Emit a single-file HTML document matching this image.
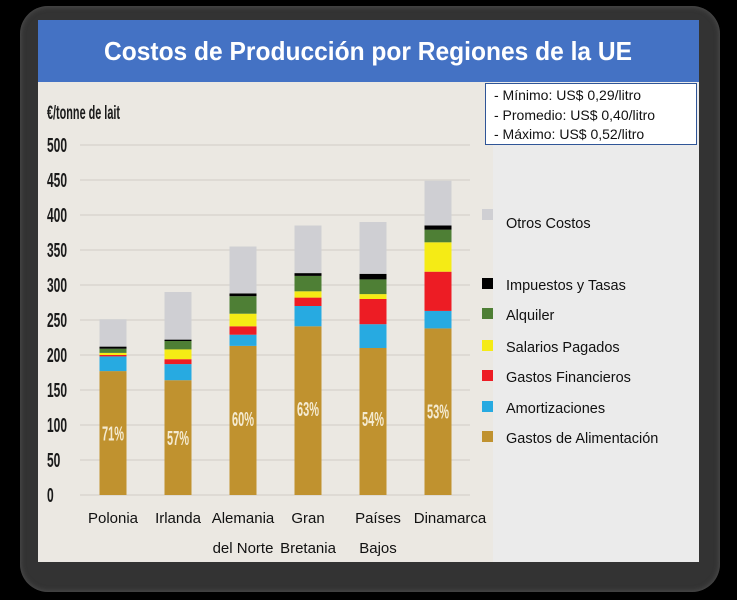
<!DOCTYPE html>
<html><head><meta charset="utf-8">
<style>
html,body{margin:0;padding:0;background:#000;}
body{width:737px;height:600px;overflow:hidden;position:relative;font-family:"Liberation Sans",sans-serif;}
#frame{position:absolute;left:20px;top:6px;width:700px;height:586px;background:#333;border-radius:28px;box-shadow:0 0 6px #555 inset;}
#panel{position:absolute;left:38px;top:20px;width:661px;height:542px;background:#ebebeb;}
#chartbg{position:absolute;left:38px;top:82px;width:455px;height:480px;background:#ebe8e2;}
#title{position:absolute;left:38px;top:20px;width:661px;height:62px;background:#4472c4;}
#info{position:absolute;left:485px;top:83px;width:212px;height:62px;background:#fff;border:1px solid #2f5597;box-sizing:border-box;font-size:14px;color:#111;line-height:19.5px;padding:2px 0 0 8px;}
svg{position:absolute;left:0;top:0;}
</style></head><body>
<div id="frame"></div>
<div id="panel"></div>
<div id="chartbg"></div>
<div id="title"></div>
<svg id="svg" width="737" height="600">
<text x="368" y="60" fill="#fff" font-size="26" font-weight="bold" text-anchor="middle" textLength="528" lengthAdjust="spacingAndGlyphs">Costos de Producción por Regiones de la UE</text>
<text x="47" y="119" fill="#1a1a1a" font-size="19" font-weight="bold" textLength="73" lengthAdjust="spacingAndGlyphs">€/tonne de lait</text>
</svg>
<div id="info">- Mínimo: US$ 0,29/litro<br>- Promedio: US$ 0,40/litro<br>- Máximo: US$ 0,52/litro</div>
<script>
const categories=["Polonia","Irlanda","Alemania|del Norte","Gran|Bretania","Países|Bajos","Dinamarca"];
const seriesNames=["Gastos de Alimentación","Amortizaciones","Gastos Financieros","Salarios Pagados","Alquiler","Impuestos y Tasas","Otros Costos"];
const seriesColors=["#c0922f","#27aae1","#ed1c24","#f5eb15","#4e7f35","#000000","#cfcfd3"];
const alimentacion=[177,164,213,241,210,238];
const amortizaciones=[21,23,16,29,34,25];
const financieros=[2,7,12,12,36,56];
const salarios=[3,14,18,9,7,42];
const alquiler=[6,12,25,22,21,18];
const impuestos=[3,2,4,4,8,6];
const otros=[39,68,67,68,74,64];
const percentLabels=["71%","57%","60%","63%","54%","53%"];
const percentAt=[89,83,110,124,110,121];
const yTicks=[0,50,100,150,200,250,300,350,400,450,500];
const series=[alimentacion,amortizaciones,financieros,salarios,alquiler,impuestos,otros];

const NS="http://www.w3.org/2000/svg";
const svg=document.getElementById('svg');
const y0=495,pxPer=0.7;
function yScale(v){return y0-v*pxPer;}
const xStart=80,band=65;
function xCenter(i){return xStart+33+i*band;}
const bw=27;
function mk(tag,attrs){const e=document.createElementNS(NS,tag);for(const k in attrs)e.setAttribute(k,attrs[k]);svg.appendChild(e);return e;}

yTicks.forEach(t=>{
  const l=mk('line',{x1:80,x2:470,y1:yScale(t),y2:yScale(t),stroke:'#d9d6d0','stroke-width':1.5});
  
  
  const tx=mk('text',{x:47,y:yScale(t)+7,'font-size':20,'font-weight':'bold',fill:'#1a1a1a'});
  tx.setAttribute('transform',`translate(47,0) scale(0.6,1) translate(-47,0)`);
  tx.textContent=t;
  
  
});

categories.forEach((c,i)=>{
  let acc=0;
  series.forEach((s,j)=>{
    const v=s[i];
    const r=mk('rect',{x:xCenter(i)-bw/2,y:yScale(acc+v),width:bw,height:v*pxPer,fill:seriesColors[j]});
    
    
    acc+=v;
  });
  const p=mk('text',{x:xCenter(i),y:yScale(percentAt[i])+8,'font-size':20,'font-weight':'bold',fill:'#f4ead0','text-anchor':'middle'});
  p.setAttribute('transform',`translate(${xCenter(i)},0) scale(0.55,1) translate(${-xCenter(i)},0)`);
  p.textContent=percentLabels[i];
  
  
  const parts=c.split('|');
  const lx=[113,178,243,308,378,450][i];
  parts.forEach((pt,k)=>{
    const t=mk('text',{x:lx,y:523+k*30,'font-size':15,fill:'#111','text-anchor':'middle'});
    t.textContent=pt;
    
    
  });
});

const legendY=[223,285,315,347,377,408,438];
const legendOrder=[6,5,4,3,2,1,0];
legendOrder.forEach((si,k)=>{
  const r=mk('rect',{x:482,y:legendY[k]-(k===0?14:7),width:11,height:11,fill:seriesColors[si]});
  
  
  const t=mk('text',{x:506,y:legendY[k]+5,'font-size':14.5,fill:'#111'});
  t.textContent=seriesNames[si];
  
  
});
</script>
</body></html>
